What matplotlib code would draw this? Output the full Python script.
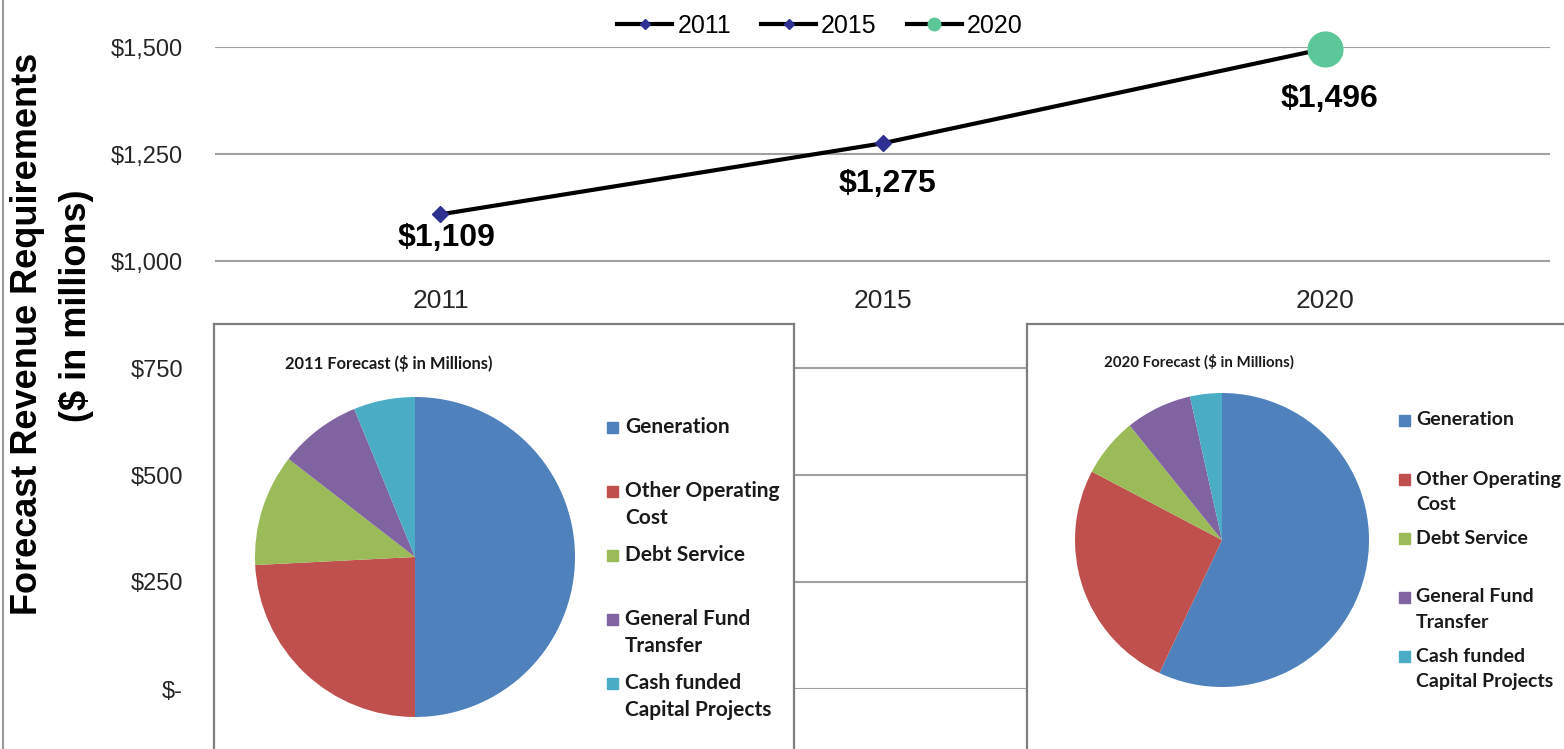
import matplotlib
matplotlib.use("Agg")
import matplotlib.pyplot as plt
from matplotlib.lines import Line2D
from matplotlib.patches import Rectangle

plt.rcParams['font.family'] = ['Liberation Sans', 'DejaVu Sans']

# data
years = ['2011', '2015', '2020']
revenue = [1109, 1275, 1496]          # $ millions
marker_styles = ['D', 'D', 'o']
marker_colors = ['#2E3192', '#2E3192', '#5CC899']
marker_sizes = [8, 8, 25]
label_offsets = [(6, -24), (5, -41), (5, -50)]   # pixels

pie_categories = ['Generation', 'Other Operating\nCost', 'Debt Service',
                  'General Fund\nTransfer', 'Cash funded\nCapital Projects']
shares_2011 = [50.0, 24.2, 11.3, 8.3, 6.2]
shares_2020 = [57.0, 25.7, 6.5, 7.3, 3.5]
pie_colors = ['#4F81BD', '#C0504D', '#9BBB59', '#8064A2', '#4BACC6']

W, H = 1564, 749
fig = plt.figure(figsize=(W / 100, H / 100), dpi=100)


def fx(x):
    return x / W


def fy(y):
    return 1 - y / H


# main line chart
ax = fig.add_axes([fx(215), fy(689), 1335 / W, 642 / H])
x = list(range(len(years)))
ax.plot(x, revenue, color='black', lw=3, zorder=3)
for i, v in enumerate(revenue):
    ax.plot(i, v, marker=marker_styles[i], ms=marker_sizes[i], color=marker_colors[i],
            mec=marker_colors[i], zorder=4, ls='none', clip_on=False)
    ax.annotate(f'${v:,}', (i, v), xytext=label_offsets[i], textcoords='offset pixels',
                ha='center', va='center', fontsize=23, fontweight='bold', color='black')

ax.set_xlim(-0.51, 2.51)
ax.set_ylim(0, 1500)
ax.set_yticks(range(0, 1501, 250))
ax.set_yticklabels(['$-' if t == 0 else f'${t:,}' for t in range(0, 1501, 250)])
ax.yaxis.grid(True, color='#a0a0a0', lw=1.5)
ax.set_axisbelow(True)
ax.set_xticks(x)
ax.set_xticklabels(years)
for s in ['top', 'right', 'left']:
    ax.spines[s].set_visible(False)
ax.spines['bottom'].set_position(('data', 1000))
ax.spines['bottom'].set_visible(False)
ax.tick_params(axis='y', length=0, pad=23, labelsize=17, labelcolor='#262626')
ax.tick_params(axis='x', length=0, pad=20, labelsize=19, labelcolor='#262626')

handles = [Line2D([], [], color='black', lw=3, marker=marker_styles[i],
                  ms=5.5 if marker_styles[i] == 'D' else 9,
                  mfc=marker_colors[i], mec=marker_colors[i]) for i in range(3)]
fig.legend(handles, years, loc='center', bbox_to_anchor=(fx(820), fy(26)),
           bbox_transform=fig.transFigure, ncol=3, frameon=False, fontsize=18,
           handlelength=2.2, handletextpad=0.2, columnspacing=1.2, borderpad=0)

# y label
fig.text(fx(28), fy(334), 'Forecast Revenue Requirements', rotation=90, ha='center',
         va='center', fontsize=26, fontweight='bold')
fig.text(fx(76), fy(306), '($ in millions)', rotation=90, ha='center',
         va='center', fontsize=26, fontweight='bold')

# left frame edge
fig.add_artist(Line2D([fx(3), fx(3)], [0, 1], color='#9a9a9a', lw=1.5,
                      transform=fig.transFigure))


def pie_box(left, right, top, cx, cy, r, shares, title, title_x, title_y, title_size,
            sq_x, txt_x, y0, step, gap, fsize):
    box = fig.add_axes([fx(left), -0.1, (right - left) / W, fy(top) + 0.1])
    box.set_facecolor('white')
    box.set_xticks([])
    box.set_yticks([])
    for s in box.spines.values():
        s.set_color('#7f7f7f')
        s.set_linewidth(1.6)
    pax = fig.add_axes([fx(cx - r), fy(cy + r), 2 * r / W, 2 * r / H])
    pax.pie(shares, colors=pie_colors, startangle=90, counterclock=False,
            wedgeprops=dict(linewidth=0))
    pax.set_xlim(-1, 1)
    pax.set_ylim(-1, 1)
    fig.text(fx(title_x), fy(title_y), title, ha='left', va='center',
             fontsize=title_size, fontweight='bold', family='Lato', color='#1a1a1a')
    for k, (cat, col) in enumerate(zip(pie_categories, pie_colors)):
        yk = y0 + k * step
        fig.add_artist(Rectangle((fx(sq_x), fy(yk + 5.5)), 11 / W, 11 / H,
                                 color=col, transform=fig.transFigure))
        for j, line in enumerate(cat.split('\n')):
            fig.text(fx(txt_x), fy(yk + j * gap), line, ha='left', va='center',
                     fontsize=fsize, fontweight='bold', family='Lato', color='#1a1a1a')


pie_box(214, 794, 324, 415, 557, 160, shares_2011, '2011 Forecast ($ in Millions)',
        285, 363, 11.9, 607, 625, 427, 64, 27, 15)
pie_box(1027, 1620, 324, 1222, 540, 147, shares_2020, '2020 Forecast ($ in Millions)',
        1104, 362, 10.8, 1399, 1416, 420, 59, 26, 14)

fig.savefig('out.png', dpi=100)
